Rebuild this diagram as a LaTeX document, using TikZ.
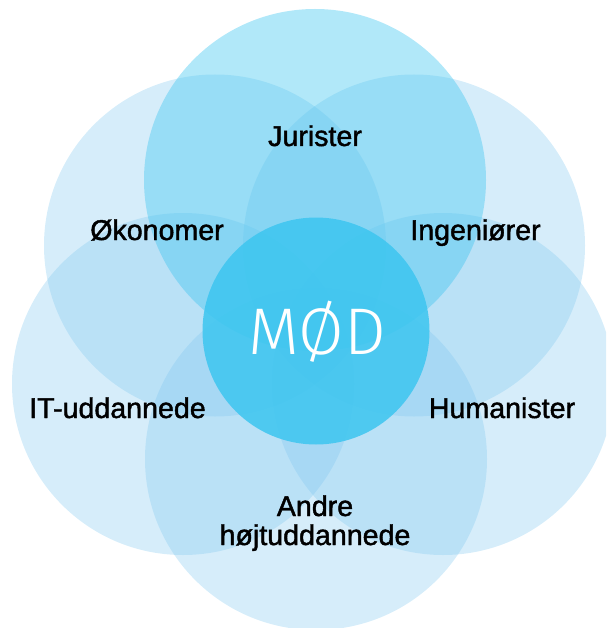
\documentclass[tikz,border=0pt]{standalone}
\usepackage{fontspec}
\setmainfont{Liberation Sans}
\newfontfamily\lblfont{Liberation Sans}[FakeBold=1.5]
\newfontfamily\modfont{Fira Sans Light}
\definecolor{lightc}{RGB}{127,199,239}
\definecolor{modc}{RGB}{60,197,240}
\tikzset{
  petal/.style={circle, minimum size=342pt, inner sep=0pt, fill=lightc, fill opacity=0.32},
  toppetal/.style={circle, minimum size=342pt, inner sep=0pt, fill=modc, fill opacity=0.4},
  core/.style={circle, minimum size=227pt, inner sep=0pt, fill=modc, fill opacity=0.85},
  lbl/.style={inner sep=0pt, anchor=base, font=\lblfont\fontsize{28.6}{29}\selectfont, text=black},
  corelbl/.style={inner sep=0pt, anchor=base, font=\modfont\fontsize{66}{66}\selectfont, text=white}
}
\begin{document}
\begin{tikzpicture}[x=1pt,y=-1pt]
\useasboundingbox (0,0) rectangle (606,628);
\clip (0,0) rectangle (606,628);
\node[petal] (tl) at (215,245.5) {};
\node[petal] (tr) at (414,245.5) {};
\node[petal] (l) at (183,384) {};
\node[petal] (r) at (443,384) {};
\node[petal] (b) at (316,459) {};
\node[toppetal] (t) at (315,180) {};
\node[core] (c) at (316,331) {};
\node[lbl] (jur) at (315,146) {Jurister};
\node[lbl] (oko) at (157,240) {Økonomer};
\node[lbl] (ing) at (475.5,240) {Ingeniører};
\node[lbl] (it) at (117.5,418) {IT-uddannede};
\node[lbl] (hum) at (502,418) {Humanister};
\node[lbl, align=center] (andre) at (315,545) {Andre\\højtuddannede};
\node[corelbl] (mod) at (317,354) {MØD};
\end{tikzpicture}
\end{document}
